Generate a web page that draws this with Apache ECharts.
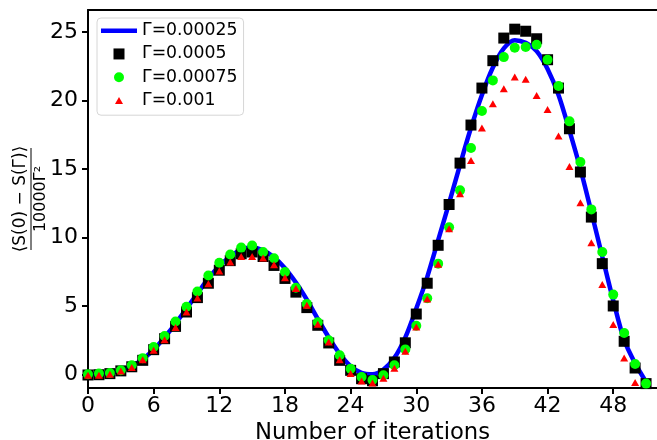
<!DOCTYPE html>
<html>
<head>
<meta charset="utf-8">
<script src="https://cdn.jsdelivr.net/npm/echarts@6/dist/echarts.min.js"></script>
<style>
  html, body { margin: 0; padding: 0; background: #fff; }
  #chart { width: 657px; height: 440px; }
</style>
</head>
<body>
<div id="chart"></div>
<script>
// iterations on the x axis
const iterations = [0, 1, 2, 3, 4, 5, 6, 7, 8, 9, 10, 11, 12, 13, 14, 15, 16, 17, 18, 19,
  20, 21, 22, 23, 24, 25, 26, 27, 28, 29, 30, 31, 32, 33, 34, 35, 36, 37, 38, 39,
  40, 41, 42, 43, 44, 45, 46, 47, 48, 49, 50, 51];

const seriesNames = ['Γ=0.00025', 'Γ=0.0005', 'Γ=0.00075', 'Γ=0.001'];

// Γ=0.00025 (line)
const gamma00025 = [0.0, 0.02, 0.1, 0.28, 0.6, 1.1, 1.8, 2.7, 3.7, 4.8,
  5.9, 7.0, 7.9, 8.6, 9.1, 9.25, 9.05, 8.55, 7.75, 6.7,
  5.45, 4.05, 2.7, 1.5, 0.6, 0.1, 0.0, 0.35, 1.2, 2.7,
  4.8, 7.1, 9.8, 12.5, 15.3, 18.0, 20.4, 22.4, 23.8, 24.4,
  24.2, 23.6, 22.3, 20.4, 17.8, 15.0, 11.85, 8.6, 5.4, 2.5,
  0.8, -0.55];

// Γ=0.0005 (black squares)
const gamma0005 = [-0.05, -0.03, 0.05, 0.25, 0.55, 1.02, 1.8, 2.6, 3.5, 4.55,
  5.6, 6.65, 7.6, 8.3, 8.8, 8.93, 8.6, 7.95, 7.0, 6.0,
  4.87, 3.58, 2.29, 1.02, 0.29, -0.32, -0.47, 0.05, 0.9, 2.3,
  4.4, 6.65, 9.42, 12.4, 15.42, 18.2, 20.9, 22.9, 24.55, 25.2,
  25.05, 24.5, 22.97, 20.9, 17.93, 14.77, 11.48, 8.08, 4.99, 2.41,
  0.46, -0.68];

// Γ=0.00075 (green circles)
const gamma00075 = [0.0, 0.05, 0.1, 0.29, 0.66, 1.18, 2.0, 2.8, 3.85, 4.93,
  6.05, 7.22, 8.15, 8.75, 9.25, 9.4, 8.93, 8.47, 7.47, 6.32,
  5.14, 3.8, 2.48, 1.39, 0.41, -0.2, -0.42, -0.07, 0.66, 1.82,
  3.55, 5.55, 8.08, 10.74, 13.43, 16.52, 19.22, 21.46, 23.16, 23.84,
  23.9, 24.06, 22.97, 21.05, 18.47, 15.5, 12.04, 8.93, 5.82, 3.02,
  0.75, -0.68];

// Γ=0.001 (red triangles)
const gamma001 = [-0.07, -0.07, 0.0, 0.24, 0.49, 1.07, 1.75, 2.53, 3.41, 4.55,
  5.58, 6.62, 7.54, 8.2, 8.61, 8.61, 8.49, 8.0, 7.05, 6.26,
  5.04, 3.65, 2.36, 1.07, 0.05, -0.49, -0.63, -0.28, 0.45, 1.69,
  3.45, 5.5, 8.04, 10.63, 13.19, 15.62, 17.98, 19.76, 20.85, 21.7,
  21.55, 20.36, 19.34, 17.4, 15.18, 12.53, 9.61, 6.55, 3.63, 1.19,
  -0.6];

const xTicks = [0, 6, 12, 18, 24, 30, 36, 42, 48];
const yTicks = [0, 5, 10, 15, 20, 25];

const font = 'DejaVu Sans';

function pairs(values) {
  return values.map((v, i) => [iterations[i], v]);
}

var chart = echarts.init(document.getElementById('chart'), null, { renderer: 'canvas' });

var axisLineStyle = { color: '#000', width: 2 };

var option = {
  animation: false,
  textStyle: { fontFamily: font },
  grid: { left: 88, right: 0, top: 10, bottom: 52, containLabel: false, outerBoundsMode: 'none' },
  legend: {
    left: 97,
    top: 18,
    orient: 'vertical',
    itemWidth: 36,
    itemHeight: 12,
    itemGap: 6,
    padding: [4, 6, 6, 4],
    backgroundColor: 'rgba(255,255,255,0.8)',
    borderColor: '#d6d6d6',
    borderWidth: 1,
    borderRadius: 4,
    symbolKeepAspect: true,
    textStyle: { fontFamily: font, fontSize: 17.3, lineHeight: 17.3, color: '#000' },
    data: [
      { name: seriesNames[0], icon: 'path://M0 0L36 0L36 4.5L0 4.5Z' },
      { name: seriesNames[1], icon: 'path://M0 0M12 12M0.5 0.5L11.5 0.5L11.5 11.5L0.5 11.5Z' },
      { name: seriesNames[2], icon: 'path://M0 0M12 12M6 1A5 5 0 1 1 5.99 1Z' },
      { name: seriesNames[3], icon: 'path://M0 0M12 12M6 2.5L10 9.5L2 9.5Z' }
    ]
  },
  xAxis: [
    {
      type: 'value',
      min: 0,
      max: 52,
      axisLine: { onZero: false, lineStyle: axisLineStyle },
      axisTick: { customValues: xTicks, length: 6, lineStyle: axisLineStyle },
      axisLabel: { customValues: xTicks, color: '#000', fontSize: 22, fontFamily: font, margin: 7 },
      splitLine: { show: false },
      name: 'Number of iterations',
      nameLocation: 'middle',
      nameGap: 29,
      nameTextStyle: { fontSize: 22.7, color: '#000', fontFamily: font }
    },
    {
      type: 'value',
      position: 'top',
      min: 0,
      max: 52,
      axisLine: { show: true, onZero: false, lineStyle: axisLineStyle },
      axisTick: { show: false },
      axisLabel: { show: false },
      splitLine: { show: false }
    }
  ],
  yAxis: {
    type: 'value',
    min: -1.0,
    max: 26.6,
    axisLine: { show: true, onZero: false, lineStyle: axisLineStyle },
    axisTick: { show: true, customValues: yTicks, length: 6, lineStyle: axisLineStyle },
    axisLabel: { customValues: yTicks, color: '#000', fontSize: 22, fontFamily: font, margin: 10 },
    splitLine: { show: false }
  },
  graphic: [
    {
      type: 'group',
      x: 31,
      y: 199,
      rotation: Math.PI / 2,
      children: [
        {
          type: 'text',
          x: 0, y: -10.5,
          style: { text: '⟨S(0) − S(Γ)⟩', fontFamily: font, fontSize: 17, fill: '#000', align: 'center', verticalAlign: 'middle' }
        },
        {
          type: 'line',
          shape: { x1: -51, y1: 0, x2: 51, y2: 0 },
          style: { stroke: '#000', lineWidth: 1 }
        },
        {
          type: 'text',
          x: 0, y: 9.5,
          style: { text: '10000Γ²', fontFamily: font, fontSize: 16, fill: '#000', align: 'center', verticalAlign: 'middle' }
        }
      ]
    }
  ],
  series: [
    {
      name: seriesNames[0],
      type: 'line',
      z: 1,
      data: pairs(gamma00025),
      showSymbol: false,
      symbol: 'none',
      smooth: 0.3,
      lineStyle: { color: '#0000ff', width: 4.5 },
      itemStyle: { color: '#0000ff' }
    },
    {
      name: seriesNames[1],
      type: 'scatter',
      z: 2,
      data: pairs(gamma0005),
      symbol: 'rect',
      symbolSize: 11,
      itemStyle: { color: '#000000', opacity: 1 }
    },
    {
      name: seriesNames[2],
      type: 'scatter',
      z: 3,
      data: pairs(gamma00075),
      symbol: 'circle',
      symbolSize: 10,
      itemStyle: { color: '#00ff00', opacity: 1 }
    },
    {
      name: seriesNames[3],
      type: 'scatter',
      z: 4,
      data: pairs(gamma001),
      symbol: 'triangle',
      symbolSize: [8, 7],
      itemStyle: { color: '#ff0000', opacity: 1 }
    }
  ]
};

chart.setOption(option);
</script>
</body>
</html>
